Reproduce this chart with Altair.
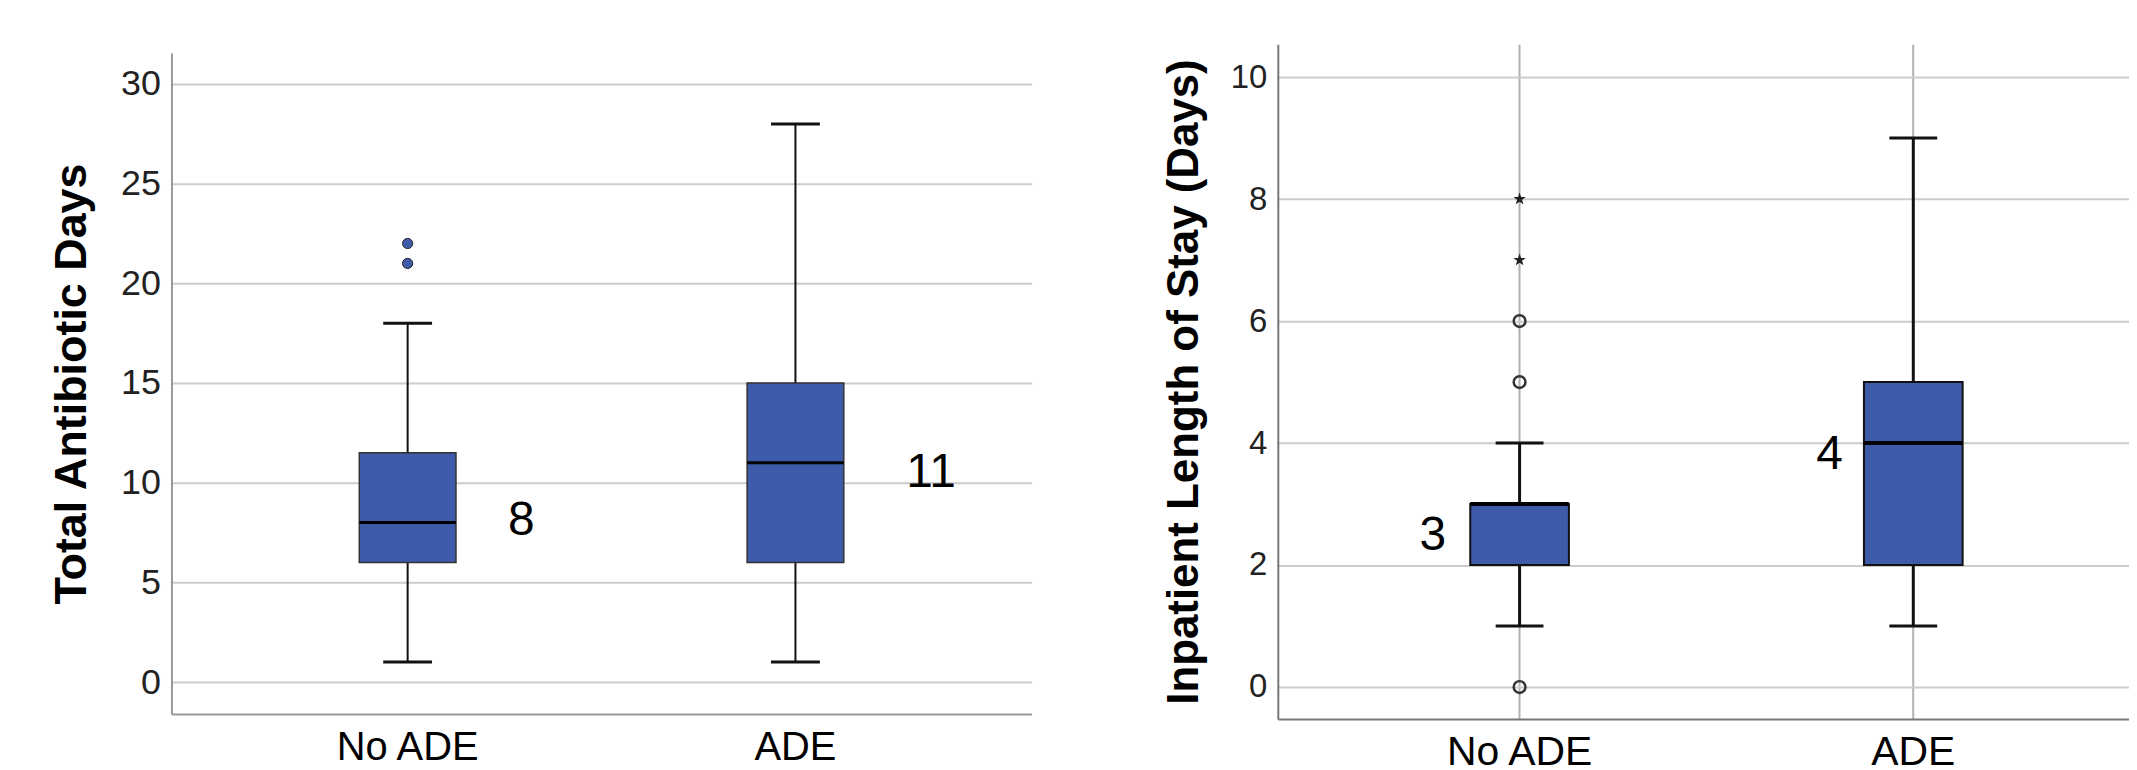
import altair as alt
import pandas as pd

groups = ["No ADE", "ADE"]

# Panel 1: Total Antibiotic Days (boxplot statistics)
abx_low = [1, 1]
abx_q1 = [6, 6]
abx_med = [8, 11]
abx_q3 = [11.5, 15]
abx_high = [18, 28]
abx_out_group = ["No ADE", "No ADE"]
abx_out_val = [21, 22]
abx_label_y = [8.1, 10.5]

# Panel 2: Inpatient Length of Stay (Days)
los_low = [1, 1]
los_q1 = [2, 2]
los_med = [3, 4]
los_q3 = [3, 5]
los_high = [4, 9]
los_circle_group = ["No ADE", "No ADE", "No ADE"]
los_circle_val = [0, 5, 6]
los_star_group = ["No ADE", "No ADE"]
los_star_val = [7, 8]
los_label_y = [2.47, 3.8]

BOX = "#3E5BA9"
FONT = "Liberation Sans"
STAR = ("M0,-1L0.235,-0.324L0.951,-0.309L0.380,0.124L0.588,0.809L0,0.4"
        "L-0.588,0.809L-0.380,0.124L-0.951,-0.309L-0.235,-0.324Z")

abx = pd.DataFrame({"group": groups, "low": abx_low, "q1": abx_q1, "med": abx_med,
                    "q3": abx_q3, "high": abx_high, "ly": abx_label_y})
abx_out = pd.DataFrame({"group": abx_out_group, "v": abx_out_val})
los = pd.DataFrame({"group": groups, "low": los_low, "q1": los_q1, "med": los_med,
                    "q3": los_q3, "high": los_high, "ly": los_label_y})
los_c = pd.DataFrame({"group": los_circle_group, "v": los_circle_val})
los_s = pd.DataFrame({"group": los_star_group, "v": los_star_val})


def panel(df, pouter, xalign, ydom, yvals, title, tfs, tpad, lfs, xlfs,
          xgrid, domcolor, wwidth, capth, medth, boxstroke, boxsw, boxsize, capsize):
    xaxis = alt.Axis(title=None, labelAngle=0, labelFontSize=xlfs, labelPadding=14,
                     labelColor="black", ticks=False, domainColor=domcolor, domainWidth=2,
                     grid=xgrid, gridColor="#b0b0b0", gridWidth=2, labelFont=FONT)
    xscale = alt.Scale(paddingInner=0.5, paddingOuter=pouter, align=xalign)
    yaxis = alt.Axis(values=yvals, title=title, titleFontSize=tfs, titleFontWeight="bold",
                     titlePadding=tpad, titleColor="black", titleFont=FONT,
                     labelFontSize=lfs, labelPadding=11, labelColor="#222", labelFont=FONT,
                     ticks=False, domainColor=domcolor, domainWidth=2,
                     gridColor="#cccccc", gridWidth=2)
    yscale = alt.Scale(domain=ydom, nice=False, zero=False)

    def X():
        return alt.X("group:N", sort=groups, scale=xscale, axis=xaxis)

    def Y(f):
        return alt.Y(f"{f}:Q", scale=yscale, axis=yaxis)

    base = alt.Chart(df)
    w1 = base.mark_rule(color="#111", strokeWidth=wwidth).encode(x=X(), y=Y("low"), y2="q1")
    w2 = base.mark_rule(color="#111", strokeWidth=wwidth).encode(x=X(), y=Y("q3"), y2="high")
    box = base.mark_bar(size=boxsize, color=BOX, stroke=boxstroke, strokeWidth=boxsw).encode(
        x=X(), y=Y("q1"), y2="q3")
    med = base.mark_tick(size=boxsize, thickness=medth, color="black", opacity=1).encode(
        x=X(), y=Y("med"))
    c1 = base.mark_tick(size=capsize, thickness=capth, color="#111", opacity=1).encode(
        x=X(), y=Y("low"))
    c2 = base.mark_tick(size=capsize, thickness=capth, color="#111", opacity=1).encode(
        x=X(), y=Y("high"))
    return [w1, w2, box, med, c1, c2], X, Y


# ---- left panel
layersL, XL, YL = panel(abx, 0.359, 0.5, [-1.6, 31.55], [0, 5, 10, 15, 20, 25, 30],
                        "Total Antibiotic Days", 45, 26, 36, 40, False, "#999999",
                        2, 3, 3, "#333333", 1.5, 97, 49)
outL = alt.Chart(abx_out).mark_point(filled=True, color=BOX, stroke="#222", strokeWidth=1,
                                     size=105, opacity=1).encode(x=XL(), y=YL("v"))
labL1 = alt.Chart(abx).transform_filter(alt.datum.group == "No ADE").mark_text(
    fontSize=48, font=FONT, color="black", dx=114, baseline="middle").encode(
    x=XL(), y=YL("ly"), text="med:Q")
labL2 = alt.Chart(abx).transform_filter(alt.datum.group == "ADE").mark_text(
    fontSize=48, font=FONT, color="black", dx=136, baseline="middle").encode(
    x=XL(), y=YL("ly"), text="med:Q")
left = alt.layer(*layersL, outL, labL1, labL2).properties(width=863, height=663)

# invisible strip that lowers the left panel a little below the right one
spacer = alt.Chart(pd.DataFrame({"s": [0]})).mark_rect(opacity=0).encode(
    x=alt.value(0), x2=alt.value(10), y=alt.value(0), y2=alt.value(9)
).properties(width=863, height=9)
leftcol = alt.vconcat(spacer, left, spacing=0)

# ---- right panel
layersR, XR, YR = panel(los, 0.331, 0.55, [-0.523, 10.54], [0, 2, 4, 6, 8, 10],
                        "Inpatient Length of Stay (Days)", 44, 24, 33, 41, True, "#777777",
                        3, 3, 4, "#111111", 2, 99, 48)
circR = alt.Chart(los_c).mark_point(filled=False, color="#333", strokeWidth=2.5, size=140,
                                    opacity=1).encode(x=XR(), y=YR("v"))
starR = alt.Chart(los_s).mark_point(shape=STAR, filled=True, color="#222", size=170,
                                    opacity=1).encode(x=XR(), y=YR("v"))
labR1 = alt.Chart(los).transform_filter(alt.datum.group == "No ADE").mark_text(
    fontSize=48, font=FONT, color="black", dx=-87, baseline="middle").encode(
    x=XR(), y=YR("ly"), text="med:Q")
labR2 = alt.Chart(los).transform_filter(alt.datum.group == "ADE").mark_text(
    fontSize=48, font=FONT, color="black", dx=-84, baseline="middle").encode(
    x=XR(), y=YR("ly"), text="med:Q")
right = alt.layer(*layersR, circR, starR, labR1, labR2).properties(width=854, height=677)

chart = alt.hconcat(leftcol, right, spacing=131).properties(
    padding={"left": 41, "top": 35, "right": 0, "bottom": 0}
).configure_view(strokeWidth=0)

chart.save("out.html", embed_options={"renderer": "svg", "actions": False})
